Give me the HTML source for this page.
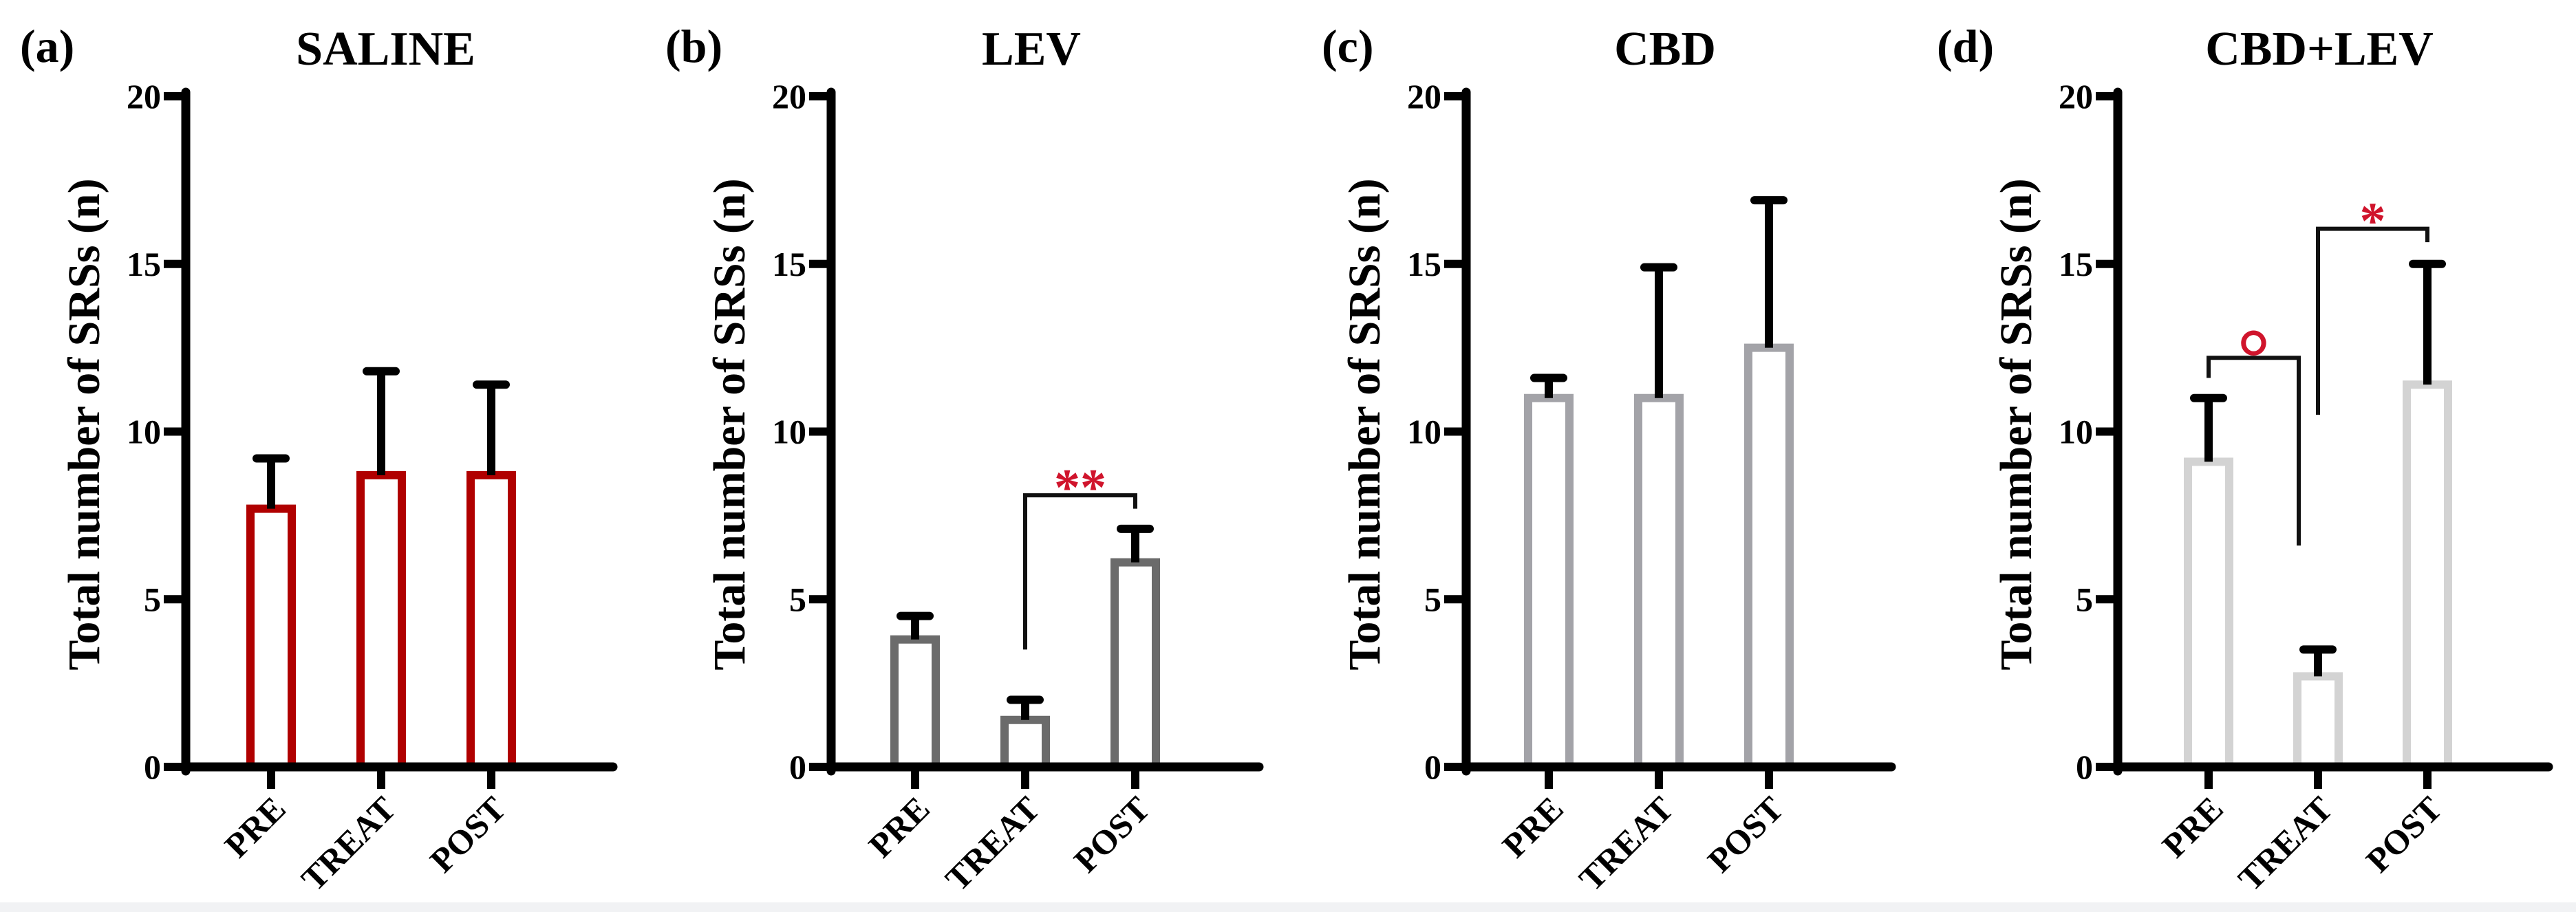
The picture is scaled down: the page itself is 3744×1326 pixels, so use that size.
<!DOCTYPE html>
<html><head><meta charset="utf-8"><style>
html,body{margin:0;padding:0;background:#fff;}
svg{display:block;font-family:"Liberation Serif",serif;}
</style></head><body>
<svg id="fig" width="3744" height="1326" viewBox="0 0 3744 1326">
<rect x="0" y="1312" width="3744" height="14" fill="#f1f2f4"/>
</svg>
<script>
const categories = ["PRE", "TREAT", "POST"];
const panelTitles = ["SALINE", "LEV", "CBD", "CBD+LEV"];
const panelLetters = ["(a)", "(b)", "(c)", "(d)"];
const salineMeans = [7.7, 8.7, 8.7];
const salineErr = [9.2, 11.8, 11.4];
const levMeans = [3.8, 1.4, 6.1];
const levErr = [4.5, 2.0, 7.1];
const cbdMeans = [11.0, 11.0, 12.5];
const cbdErr = [11.6, 14.9, 16.9];
const cbdLevMeans = [9.1, 2.7, 11.4];
const cbdLevErr = [11.0, 3.5, 15.0];
const yTicks = [0, 5, 10, 15, 20];
const yTickLabels = ["0", "5", "10", "15", "20"];
const sigPanel = [1, 3, 3];
const sigFrom = [1, 0, 1];
const sigTo = [2, 1, 2];
const sigLevel = [8.1, 12.2, 16.05];
const sigLeftEnd = [3.5, 11.6, 10.5];
const sigRightEnd = [7.7, 6.6, 15.65];
const sigLabel = ["**", "°", "*"];

const means = [salineMeans, levMeans, cbdMeans, cbdLevMeans];
const errs = [salineErr, levErr, cbdErr, cbdLevErr];
const layout = [
  {ax: 270, end: 891, off: 124, sp: 160, col: "#b00000", lx: 29},
  {ax: 1208, end: 1830, off: 122, sp: 160, col: "#6b6b6b", lx: 967},
  {ax: 2131, end: 2749, off: 120, sp: 160, col: "#a3a3a8", lx: 1921},
  {ax: 3078, end: 3704, off: 132, sp: 159, col: "#d3d3d3", lx: 2815}
];
const Y0 = 1115, UNIT = 48.75;
function yS(v){ return Y0 - v * UNIT; }
function xS(p, i){ return layout[p].ax + layout[p].off + i * layout[p].sp; }
const NS = "http://www.w3.org/2000/svg";
const svg = document.getElementById("fig");
function mk(tag, attrs, parent){
  const e = document.createElementNS(NS, tag);
  for (const k in attrs) e.setAttribute(k, attrs[k]);
  (parent || svg).appendChild(e);
  return e;
}
for (let p = 0; p < 4; p++) {
  const L = layout[p];
  const g = mk("g", {});
  
  
  const lt = mk("text", {x: L.lx, y: 90, "font-size": 68, "font-weight": "bold", fill: "#000"}, g);
  lt.textContent = panelLetters[p];
  
  
  const tt = mk("text", {x: (L.ax + L.end) / 2 - 20, y: 94, "font-size": 70, "font-weight": "bold", "text-anchor": "middle", fill: "#000"}, g);
  tt.textContent = panelTitles[p];
  
  
  for (let i = 0; i < 3; i++) {
    const cx = xS(p, i);
    const r = mk("rect", {x: cx - 30, y: yS(means[p][i]), width: 60, height: Y0 - yS(means[p][i]), fill: "#fff", stroke: L.col, "stroke-width": 12}, g);
    
    
    const el = mk("line", {x1: cx, x2: cx, y1: yS(means[p][i]), y2: yS(errs[p][i]), stroke: "#000", "stroke-width": 12}, g);
    
    
    const cap = mk("line", {x1: cx - 21, x2: cx + 21, y1: yS(errs[p][i]), y2: yS(errs[p][i]), stroke: "#000", "stroke-width": 12, "stroke-linecap": "round"}, g);
    
    
    const xt = mk("line", {x1: cx, x2: cx, y1: Y0, y2: Y0 + 32, stroke: "#000", "stroke-width": 12}, g);
    
    
    const xl = mk("text", {x: cx + 24, y: Y0 + 64, "font-size": 50, "font-weight": "bold", "text-anchor": "end", transform: `rotate(-45 ${cx + 24} ${Y0 + 64})`, fill: "#000"}, g);
    xl.textContent = categories[i];
    
    
  }
  const ya = mk("line", {x1: L.ax, x2: L.ax, y1: yS(20) - 6, y2: Y0 + 6, stroke: "#000", "stroke-width": 13, "stroke-linecap": "round"}, g);
  
  
  const xa = mk("line", {x1: L.ax, x2: L.end, y1: Y0, y2: Y0, stroke: "#000", "stroke-width": 13, "stroke-linecap": "round"}, g);
  
  
  for (let t = 0; t < yTicks.length; t++) {
    const yy = yS(yTicks[t]);
    const tk = mk("line", {x1: L.ax - 32, x2: L.ax, y1: yy, y2: yy, stroke: "#000", "stroke-width": 12}, g);
    
    
    const tl = mk("text", {x: L.ax - 36, y: yy + 17, "font-size": 50, "font-weight": "bold", "text-anchor": "end", fill: "#000"}, g);
    tl.textContent = yTickLabels[t];
    
    
  }
  const yl = mk("text", {x: L.ax - 141, y: 617, "font-size": 66, "font-weight": "bold", "text-anchor": "middle", "dominant-baseline": "middle", transform: `rotate(-90 ${L.ax - 141} 617)`, fill: "#000"}, g);
  yl.textContent = "Total number of SRSs (n)";
  
  
}
for (let s = 0; s < sigPanel.length; s++) {
  const p = sigPanel[s];
  let x1 = xS(p, sigFrom[s]), x2 = xS(p, sigTo[s]);
  if (s === 1) x2 -= 28;
  const yb = yS(sigLevel[s]);
  const br = mk("path", {d: `M${x1} ${yS(sigLeftEnd[s])} V${yb} H${x2} V${yS(sigRightEnd[s])}`, fill: "none", stroke: "#111", "stroke-width": 6});
  
  
  const isDeg = sigLabel[s] === "°";
  const st = mk("text", {x: (x1 + x2) / 2, y: isDeg ? yb + 40 : yb + 14, "font-size": isDeg ? 120 : 76, "font-weight": "bold", "text-anchor": "middle", fill: "#d0142c"});
  st.textContent = sigLabel[s];
  
  
}
</script>
</body></html>
